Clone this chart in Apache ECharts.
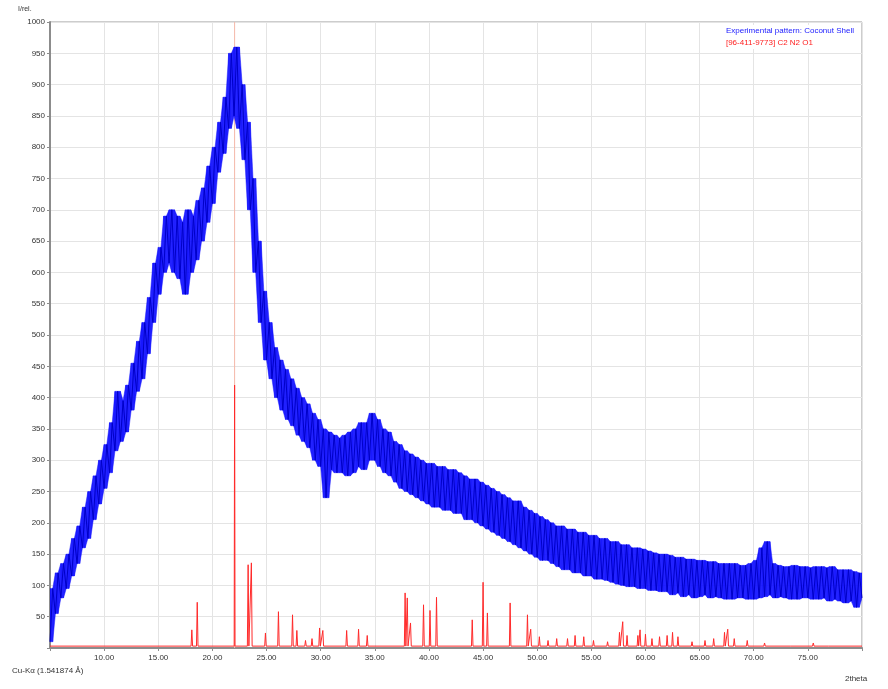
<!DOCTYPE html>
<html>
<head>
<meta charset="utf-8">
<title>XRD</title>
<script src="https://cdn.jsdelivr.net/npm/echarts@6/dist/echarts.min.js"></script>
<style>
html,body{margin:0;padding:0;background:#fff;}
#main{width:888px;height:689px;}
</style>
</head>
<body>
<div id="main"></div>
<script>
// 实测曲线，从 5.00 度开始，每 0.25 度一个点
var blueStart = 5;
var blueStep = 0.25;
var blueVals = [
	10, 95, 55, 120,
	80, 135, 95, 150,
	115, 175, 135, 195,
	160, 225, 175, 250,
	205, 275, 230, 300,
	255, 325, 280, 360,
	315, 410, 330, 395,
	345, 420, 380, 455,
	410, 490, 430, 520,
	470, 560, 520, 615,
	565, 640, 600, 690,
	615, 700, 600, 690,
	590, 680, 565, 700,
	600, 690, 620, 715,
	650, 735, 680, 770,
	710, 800, 760, 840,
	790, 880, 830, 950,
	850, 960, 830, 900,
	780, 840, 700, 750,
	600, 650, 520, 570,
	460, 520, 430, 480,
	400, 460, 380, 445,
	365, 430, 355, 415,
	340, 400, 330, 390,
	320, 375, 300, 365,
	290, 350, 240, 345,
	285, 340, 280, 335,
	280, 340, 275, 345,
	280, 350, 290, 360,
	285, 360, 300, 375,
	300, 365, 290, 350,
	280, 345, 275, 330,
	265, 325, 255, 315,
	250, 310, 245, 305,
	240, 300, 235, 295,
	230, 295, 225, 290,
	225, 290, 220, 285,
	220, 285, 215, 280,
	215, 275, 205, 270,
	205, 270, 200, 265,
	195, 260, 190, 255,
	185, 250, 180, 245,
	175, 240, 170, 235,
	165, 235, 160, 225,
	155, 220, 150, 215,
	145, 210, 140, 205,
	140, 200, 135, 195,
	130, 195, 125, 190,
	125, 190, 120, 185,
	120, 185, 115, 180,
	115, 180, 110, 175,
	110, 175, 108, 170,
	105, 170, 102, 165,
	100, 165, 98, 160,
	98, 160, 95, 158,
	95, 155, 92, 152,
	92, 150, 90, 150,
	90, 148, 85, 145,
	88, 145, 82, 142,
	85, 142, 80, 140,
	82, 140, 85, 138,
	80, 138, 82, 135,
	80, 135, 78, 135,
	78, 135, 80, 132,
	80, 132, 78, 135,
	78, 140, 80, 160,
	82, 170, 85, 135,
	80, 132, 82, 130,
	80, 130, 78, 132,
	78, 130, 80, 130,
	80, 128, 78, 130,
	78, 130, 80, 128,
	75, 130, 78, 125,
	75, 125, 72, 125,
	75, 122, 65, 120,
	80
];

// 参考卡片峰位 / 峰高
var refPos = [18.1, 18.6, 22.05, 23.3, 23.6, 24.9, 26.1, 27.4, 27.8, 28.6, 29.2, 29.9, 30.2,
	32.4, 33.5, 34.3, 37.8, 38.0, 38.3, 39.5, 40.1, 40.7, 44.0, 45.0, 45.4, 47.5, 49.1, 49.4,
	50.2, 51.0, 51.8, 52.8, 53.5, 54.3, 55.2, 56.5, 57.6, 57.9, 58.3, 59.3, 59.5, 60.0, 60.6,
	61.3, 62.0, 62.5, 63.0, 64.3, 65.5, 66.3, 67.3, 67.6, 68.2, 69.4, 71.0, 73.5, 75.5, 77.0, 78.5];
var refHeight = [29, 73, 420, 133, 136, 24, 58, 53, 28, 12, 15, 32, 28,
	28, 30, 20, 88, 80, 40, 69, 60, 81, 45, 105, 56, 72, 53, 30,
	18, 12, 15, 15, 20, 18, 12, 10, 25, 42, 20, 20, 29, 22, 15,
	18, 20, 25, 18, 10, 12, 15, 25, 30, 15, 12, 8, 6, 8, 6, 5];
var refBase = 3;
// 最强峰的细线部分（图上颜色很淡）
var refTopPos = 22.05;
var refTopHeight = 1000;

var xTicks = ['10.00', '15.00', '20.00', '25.00', '30.00', '35.00', '40.00', '45.00', '50.00', '55.00', '60.00', '65.00', '70.00', '75.00'];

var blueName = 'Experimental pattern: Coconut Shell';
var redName = '[96-411-9773] C2 N2 O1';

function buildBlue() {
	var arr = [];
	for (var i = 0; i < blueVals.length; i++) {
		arr.push([blueStart + i * blueStep, blueVals[i]]);
	}
	return arr;
}

// 噪声带：取相邻点的最小/最大值，每段画一个四边形
function buildBand() {
	var lo = [], hi = [], arr = [];
	var n = blueVals.length;
	for (var i = 0; i < n; i++) {
		var a = blueVals[Math.max(0, i - 1)];
		var b = blueVals[i];
		var c = blueVals[Math.min(n - 1, i + 1)];
		lo.push(Math.min(a, b, c));
		hi.push(Math.max(a, b, c));
	}
	for (var j = 0; j < n - 1; j++) {
		arr.push([blueStart + j * blueStep, lo[j], hi[j], blueStart + (j + 1) * blueStep, lo[j + 1], hi[j + 1]]);
	}
	return arr;
}

function renderBand(params, api) {
	var p1 = api.coord([api.value(0), api.value(1)]);
	var p2 = api.coord([api.value(0), api.value(2)]);
	var p3 = api.coord([api.value(3), api.value(5)]);
	var p4 = api.coord([api.value(3), api.value(4)]);
	return {
		type: 'polygon',
		shape: {points: [p1, p2, p3, p4]},
		style: {fill: '#0a0aff', opacity: 0.9, stroke: '#0a0aff', lineWidth: 0.5}
	};
}

function buildRed() {
	var arr = [[5, refBase]];
	for (var i = 0; i < refPos.length; i++) {
		var w = (refHeight[i] > 300) ? 0.04 : 0.07;
		arr.push([refPos[i] - w, refBase]);
		arr.push([refPos[i], refHeight[i]]);
		arr.push([refPos[i] + w, refBase]);
	}
	arr.push([80, refBase]);
	return arr;
}

var chart = echarts.init(document.getElementById('main'));

var option = {
	animation: false,
	backgroundColor: '#fff',
	grid: {left: 50, right: 26, top: 22, bottom: 41, show: true, borderColor: '#9a9a9a', borderWidth: 1},
	legend: {
		right: 30, top: 25, orient: 'vertical', itemWidth: 0, itemHeight: 0, itemGap: 4,
		icon: 'none', backgroundColor: '#fff', padding: [2, 4],
		data: [
			{name: blueName, textStyle: {color: '#1a1aff', fontSize: 8, fontFamily: 'Liberation Sans'}},
			{name: redName, textStyle: {color: '#ff2020', fontSize: 8, fontFamily: 'Liberation Sans'}}
		]
	},
	xAxis: {
		type: 'value', min: 5, max: 80, interval: 5,
		axisLine: {lineStyle: {color: '#8c8c8c', width: 2}},
		axisTick: {length: 3, lineStyle: {color: '#8c8c8c'}},
		splitLine: {lineStyle: {color: '#e4e4e4'}},
		axisLabel: {
			fontFamily: 'Liberation Sans', fontSize: 8, color: '#333', margin: 6,
			formatter: function (v) {
				var s = v.toFixed(2);
				return xTicks.indexOf(s) >= 0 ? s : '';
			}
		}
	},
	yAxis: {
		type: 'value', min: 0, max: 1000, interval: 50,
		axisLine: {show: true, lineStyle: {color: '#8c8c8c', width: 2}},
		axisTick: {show: true, length: 3, lineStyle: {color: '#8c8c8c'}},
		splitLine: {lineStyle: {color: '#e4e4e4'}},
		axisLabel: {
			fontFamily: 'Liberation Sans', fontSize: 8, color: '#333', margin: 5,
			formatter: function (v) { return v === 0 ? '' : String(v); }
		}
	},
	graphic: [
		{type: 'text', left: 18, top: 6, style: {text: 'I/rel.', font: '7px Liberation Sans', fill: '#333'}},
		{type: 'text', left: 12, top: 667, style: {text: 'Cu-K\u03b1 (1.541874 \u00c5)', font: '8px Liberation Sans', fill: '#333'}},
		{type: 'text', left: 845, top: 675, style: {text: '2theta', font: '8px Liberation Sans', fill: '#333'}}
	],
	series: [
		{
			name: 'band', type: 'custom', data: buildBand(), renderItem: renderBand,
			encode: {x: [0, 3], y: [1, 2, 4, 5]}, z: 1, silent: true, clip: true
		},
		{
			name: 'refTop', type: 'line', data: [[refTopPos, 0], [refTopPos, refTopHeight]],
			showSymbol: false, z: 0, silent: true,
			lineStyle: {color: '#f4b8a8', width: 1}
		},
		{
			name: redName, type: 'line', data: buildRed(), showSymbol: false, z: 3,
			lineStyle: {color: '#ff2a2a', width: 1}, itemStyle: {color: '#ff2a2a'}
		},
		{
			name: blueName, type: 'line', data: buildBlue(), showSymbol: false, z: 2,
			lineStyle: {color: '#0000c8', width: 1}, itemStyle: {color: '#0000ff'}
		}
	]
};
chart.setOption(option);
</script>
</body>
</html>
